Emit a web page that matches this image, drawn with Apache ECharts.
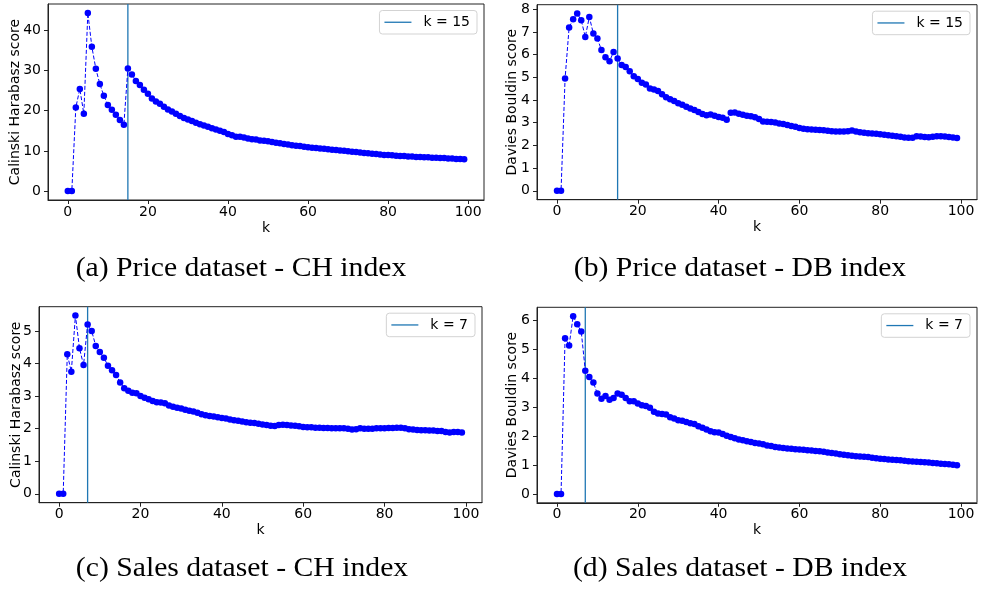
<!DOCTYPE html>
<html>
<head>
<meta charset="utf-8">
<script src="https://cdn.jsdelivr.net/npm/echarts@6/dist/echarts.min.js"></script>
<style>
html,body{margin:0;padding:0;background:#fff;}
#main{width:981px;height:589px;}
</style>
</head>
<body>
<div id="main"></div>
<script>
// k = 0 .. 99
var kValues = Array.from({length: 100}, function (_, i) { return i; });

var priceCH = [
  0, 0, 20.8, 25.4, 19.2, 44.3, 35.9, 30.4, 26.6, 23.7, 21.4, 20.2, 19.0, 17.7, 16.5,
  30.5, 29.0, 27.4, 26.4, 25.2, 24.2, 23.0, 22.3, 21.7, 21.0, 20.3, 19.8, 19.2, 18.7, 18.2,
  17.8, 17.4, 17.0, 16.6, 16.3, 16.0, 15.6, 15.3, 15.0, 14.7, 14.2, 13.9, 13.5, 13.5, 13.3,
  13.1, 12.9, 12.8, 12.6, 12.5, 12.4, 12.2, 12.0, 11.9, 11.7, 11.6, 11.4, 11.3, 11.2, 11.0,
  10.9, 10.8, 10.7, 10.6, 10.5, 10.4, 10.3, 10.2, 10.1, 10.0, 9.9, 9.8, 9.7, 9.6, 9.5,
  9.4, 9.3, 9.2, 9.1, 9.0, 9.0, 8.9, 8.8, 8.7, 8.7, 8.6, 8.6, 8.5, 8.5, 8.4,
  8.4, 8.3, 8.3, 8.2, 8.2, 8.1, 8.1, 8.0, 8.0, 7.9
];
var priceDB = [
  0, 0, 4.95, 7.2, 7.56, 7.81, 7.52, 6.78, 7.66, 6.93, 6.71, 6.2, 5.88, 5.71, 6.12,
  5.83, 5.54, 5.46, 5.27, 5.05, 4.93, 4.76, 4.69, 4.51, 4.47, 4.40, 4.26, 4.12, 4.03, 3.96,
  3.86, 3.79, 3.71, 3.63, 3.56, 3.47, 3.38, 3.33, 3.36, 3.31, 3.25, 3.22, 3.13, 3.44, 3.45,
  3.40, 3.35, 3.31, 3.29, 3.24, 3.17, 3.05, 3.04, 3.03, 3.01, 2.97, 2.94, 2.90, 2.86, 2.82,
  2.77, 2.73, 2.71, 2.70, 2.69, 2.68, 2.67, 2.65, 2.63, 2.61, 2.61, 2.61, 2.62, 2.66, 2.61,
  2.58, 2.56, 2.54, 2.53, 2.52, 2.49, 2.47, 2.45, 2.43, 2.41, 2.38, 2.35, 2.34, 2.34, 2.41,
  2.39, 2.37, 2.36, 2.38, 2.40, 2.41, 2.39, 2.37, 2.35, 2.33
];
var salesCH = [
  0, 0, 4.28, 3.75, 5.47, 4.47, 3.95, 5.2, 5.0, 4.54, 4.35, 4.18, 3.93, 3.79, 3.65,
  3.42, 3.24, 3.16, 3.10, 3.09, 3.00, 2.95, 2.90, 2.85, 2.81, 2.80, 2.78, 2.71, 2.67, 2.64,
  2.62, 2.58, 2.55, 2.53, 2.49, 2.44, 2.41, 2.39, 2.37, 2.35, 2.33, 2.31, 2.28, 2.26, 2.24,
  2.22, 2.20, 2.18, 2.17, 2.15, 2.13, 2.11, 2.09, 2.08, 2.11, 2.12, 2.11, 2.10, 2.09, 2.07,
  2.05, 2.04, 2.04, 2.03, 2.03, 2.02, 2.02, 2.01, 2.01, 2.01, 2.01, 2.00, 1.97, 1.98, 2.01,
  2.00, 2.00, 2.00, 2.01, 2.01, 2.01, 2.02, 2.02, 2.03, 2.03, 2.01, 1.98, 1.97, 1.96, 1.95,
  1.95, 1.94, 1.94, 1.93, 1.93, 1.90, 1.88, 1.90, 1.90, 1.88
];
var salesDB = [
  0, 0, 5.37, 5.12, 6.13, 5.85, 5.6, 4.25, 4.03, 3.84, 3.46, 3.28, 3.38, 3.25, 3.31,
  3.46, 3.42, 3.31, 3.20, 3.20, 3.12, 3.06, 3.03, 2.97, 2.83, 2.77, 2.76, 2.74, 2.64, 2.60,
  2.54, 2.52, 2.48, 2.44, 2.41, 2.33, 2.28, 2.22, 2.16, 2.13, 2.12, 2.07, 2.01, 1.96, 1.92,
  1.88, 1.85, 1.82, 1.79, 1.76, 1.74, 1.71, 1.67, 1.65, 1.62, 1.60, 1.58, 1.57, 1.56, 1.54,
  1.53, 1.52, 1.51, 1.50, 1.48, 1.47, 1.45, 1.43, 1.41, 1.39, 1.37, 1.35, 1.33, 1.32, 1.30,
  1.29, 1.28, 1.27, 1.25, 1.23, 1.21, 1.20, 1.19, 1.18, 1.17, 1.16, 1.14, 1.13, 1.12, 1.11,
  1.10, 1.09, 1.08, 1.07, 1.06, 1.04, 1.03, 1.02, 1.01, 0.99
];

var xTicks = [0, 20, 40, 60, 80, 100];
var yTicksPriceCH = [0, 10, 20, 30, 40];
var yTicksPriceDB = [0, 1, 2, 3, 4, 5, 6, 7, 8];
var yTicksSalesCH = [0, 1, 2, 3, 4, 5];
var yTicksSalesDB = [0, 1, 2, 3, 4, 5, 6];

var chosenK = [15, 15, 7, 7];
var yNames = ['Calinski Harabasz score', 'Davies Bouldin score', 'Calinski Harabasz score', 'Davies Bouldin score'];
var captions = ['(a) Price dataset - CH index', '(b) Price dataset - DB index', '(c) Sales dataset - CH index', '(d) Sales dataset - DB index'];

var panels = [
  {vals: priceCH, ticks: yTicksPriceCH, grid: {left: 48, top: 4, width: 436, height: 196}, nameGap: 26, cap: [241, 269]},
  {vals: priceDB, ticks: yTicksPriceDB, grid: {left: 537, top: 4.7, width: 440, height: 195}, nameGap: 18, cap: [740, 269]},
  {vals: salesCH, ticks: yTicksSalesCH, grid: {left: 39, top: 306.7, width: 443, height: 196}, nameGap: 16, cap: [242, 569]},
  {vals: salesDB, ticks: yTicksSalesDB, grid: {left: 537, top: 307.3, width: 440, height: 195.5}, nameGap: 18, cap: [740, 569]}
];

var FONT = 'DejaVu Sans';
var FS = 14;
var axisCol = '#222';
var measureCtx = document.createElement('canvas').getContext('2d');
measureCtx.font = FS + 'px "' + FONT + '"';

var grids = [], xAxes = [], yAxes = [], series = [], graphics = [];

panels.forEach(function (p, i) {
  var maxV = Math.max.apply(null, p.vals), minV = Math.min.apply(null, p.vals);
  var pad = (maxV - minV) * 0.05;
  var yMin = minV - pad, yMax = maxV + pad;
  var g = p.grid;
  grids.push({left: g.left, top: g.top, width: g.width, height: g.height, show: true, borderColor: axisCol, borderWidth: 1, backgroundColor: 'transparent'});
  xAxes.push({
    type: 'value', gridIndex: i, min: -4.95, max: 103.95,
    name: 'k', nameLocation: 'middle', nameGap: 21, nameMoveOverlap: false,
    nameTextStyle: {fontFamily: FONT, fontSize: FS, color: '#000'},
    axisLine: {show: true, onZero: false, lineStyle: {color: axisCol, width: 1}},
    axisTick: {show: true, length: 4, lineStyle: {color: axisCol}, customValues: xTicks},
    axisLabel: {fontFamily: FONT, fontSize: FS, color: '#000', margin: 5, customValues: xTicks},
    splitLine: {show: false}
  });
  yAxes.push({
    type: 'value', gridIndex: i, min: yMin, max: yMax,
    name: yNames[i], nameLocation: 'middle', nameGap: p.nameGap, nameRotate: 90, nameMoveOverlap: false,
    nameTextStyle: {fontFamily: FONT, fontSize: FS, color: '#000'},
    axisLine: {show: true, onZero: false, lineStyle: {color: axisCol, width: 1}},
    axisTick: {show: true, length: 4, lineStyle: {color: axisCol}, customValues: p.ticks},
    axisLabel: {fontFamily: FONT, fontSize: FS, color: '#000', margin: 7, customValues: p.ticks},
    splitLine: {show: false}
  });
  var kLabel = 'k = ' + chosenK[i];
  series.push({
    type: 'line', name: kLabel, xAxisIndex: i, yAxisIndex: i,
    data: [[chosenK[i], yMin], [chosenK[i], yMax]],
    symbol: 'none', silent: true, animation: false,
    lineStyle: {color: '#1f77b4', width: 1.3}, itemStyle: {color: '#1f77b4'}, z: 2
  });
  series.push({
    type: 'line', name: 'scores' + i, xAxisIndex: i, yAxisIndex: i,
    data: kValues.map(function (k, j) { return [k, p.vals[j]]; }),
    symbol: 'circle', symbolSize: 6.5, showSymbol: true, animation: false,
    lineStyle: {color: '#0000ff', width: 1, type: [4, 2]},
    itemStyle: {color: '#0000ff'}, z: 3
  });
  // legend box (drawn like matplotlib's legend)
  var tw = measureCtx.measureText(kLabel).width;
  var boxRight = g.left + g.width - 7;
  var boxW = 5 + 27 + 12 + tw + 7;
  var boxL = boxRight - boxW;
  var boxT = g.top + 6.5, boxH = 23.5;
  var midY = boxT + boxH / 2;
  graphics.push({
    type: 'group', z: 10,
    children: [
      {type: 'rect', shape: {x: boxL, y: boxT, width: boxW, height: boxH, r: 3},
       style: {fill: 'rgba(255,255,255,0.8)', stroke: '#d3d3d3', lineWidth: 1}},
      {type: 'line', shape: {x1: boxL + 5, y1: midY, x2: boxL + 32, y2: midY},
       style: {stroke: '#1f77b4', lineWidth: 1.3}},
      {type: 'text', x: boxL + 44, y: midY,
       style: {text: kLabel, fontFamily: FONT, fontSize: FS, fill: '#000', textAlign: 'left', textVerticalAlign: 'middle'}}
    ]
  });
  graphics.push({
    type: 'text', x: p.cap[0], y: p.cap[1], scaleX: 1.1, scaleY: 1,
    style: {text: captions[i], fontFamily: 'Liberation Serif', fontSize: 27, fill: '#000', textAlign: 'center', textVerticalAlign: 'middle'}
  });
});

var chart = echarts.init(document.getElementById('main'), null, {renderer: 'canvas'});
chart.setOption({
  animation: false,
  backgroundColor: '#fff',
  grid: grids, xAxis: xAxes, yAxis: yAxes, series: series, graphic: graphics
});
</script>
</body>
</html>
